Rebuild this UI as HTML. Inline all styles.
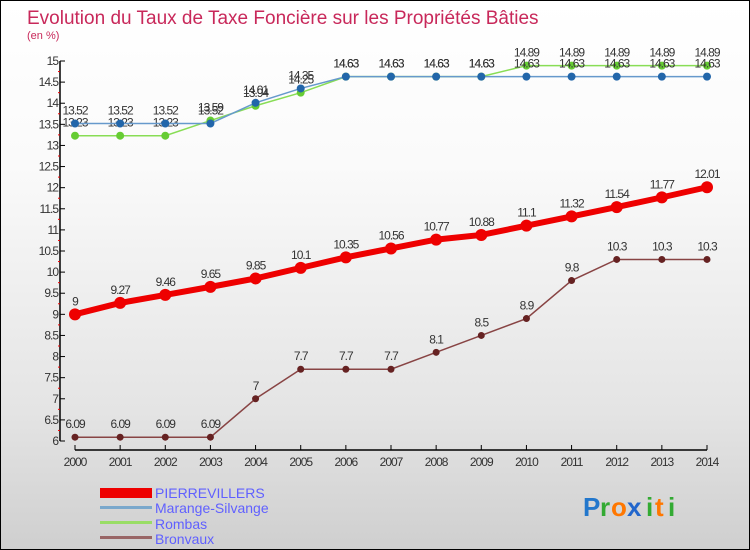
<!DOCTYPE html>
<html><head><meta charset="utf-8"><style>
html,body{margin:0;padding:0}
body{width:750px;height:550px;overflow:hidden;font-family:"Liberation Sans",sans-serif}
#wrap{position:absolute;left:0;top:0;width:748px;height:548px;border:1px solid #000;background:linear-gradient(#fff,#fafafa 30%,#e4e4e4 75%,#cfcfcf)}
</style></head><body>
<div id="wrap">
<svg id="svg" width="750" height="550" style="position:absolute;left:-1px;top:-1px">
<text x="27" y="24" font-size="19" fill="#c8285a">Evolution du Taux de Taxe Foncière sur les Propriétés Bâties</text>
<text x="27" y="39" font-size="11" fill="#c8285a">(en %)</text>
<g id="axes"></g><g id="series"></g>
<g>
<rect x="100" y="488" width="52" height="10" fill="#ee0000"/>
<text x="155" y="498" font-size="14" fill="#6060ff">PIERREVILLERS</text>
<rect x="100" y="506" width="52" height="3" fill="#7aa8cc"/>
<text x="155" y="513" font-size="14" fill="#6060ff">Marange-Silvange</text>
<rect x="100" y="521" width="52" height="3" fill="#99dd66"/>
<text x="155" y="529" font-size="14" fill="#6060ff">Rombas</text>
<rect x="100" y="536" width="52" height="3" fill="#996666"/>
<text x="155" y="544" font-size="14" fill="#6060ff">Bronvaux</text>
</g>
<g font-size="26" font-weight="bold">
<text x="583" y="516" fill="#2277cc">P</text><text x="600" y="516" fill="#33aa33">r</text><text x="611" y="516" fill="#ff7700">o</text><text x="627" y="516" fill="#2266cc">x</text><text x="646" y="516" fill="#33aa33">i</text><text x="655" y="516" fill="#ff7700">t</text><text x="668" y="516" fill="#33aa33">i</text>
</g>
</svg></div>
<script>
const years=[2000,2001,2002,2003,2004,2005,2006,2007,2008,2009,2010,2011,2012,2013,2014];
const pierrevillers=[9,9.27,9.46,9.65,9.85,10.1,10.35,10.56,10.77,10.88,11.1,11.32,11.54,11.77,12.01];
const marange=[13.52,13.52,13.52,13.52,14.01,14.35,14.63,14.63,14.63,14.63,14.63,14.63,14.63,14.63,14.63];
const rombas=[13.23,13.23,13.23,13.59,13.94,14.25,14.63,14.63,14.63,14.63,14.89,14.89,14.89,14.89,14.89];
const bronvaux=[6.09,6.09,6.09,6.09,7,7.7,7.7,7.7,8.1,8.5,8.9,9.8,10.3,10.3,10.3];
const yTicks=[6,6.5,7,7.5,8,8.5,9,9.5,10,10.5,11,11.5,12,12.5,13,13.5,14,14.5,15];
const NS="http://www.w3.org/2000/svg";
const X=i=>75+i*(632/14), Y=v=>441-(v-6)*(380/9);
function mk(t,a,p){const e=document.createElementNS(NS,t);for(const k in a)e.setAttribute(k,a[k]);p.appendChild(e);return e;}
const ax=document.getElementById('axes'), sg=document.getElementById('series');
let yl=mk('line',{x1:60,y1:Y(15),x2:60,y2:Y(6),stroke:'#000','stroke-width':1.5},ax);


yTicks.forEach(v=>{
  mk('line',{x1:60,x2:65,y1:Y(v),y2:Y(v),stroke:'#000'},ax);
  if(v<15) mk('line',{x1:58,x2:60,y1:Y(v+0.25),y2:Y(v+0.25),stroke:'#e00'},ax);
  const t=mk('text',{x:58,y:Y(v)+4,'font-size':12,'text-anchor':'end',fill:'#333','letter-spacing':'-1'},ax);t.textContent=v;
  
  
});
let xl=mk('line',{x1:75,y1:450,x2:707,y2:450,stroke:'#000','stroke-width':1.5},ax);


years.forEach((y,i)=>{
  mk('line',{x1:X(i),x2:X(i),y1:445,y2:450,stroke:'#000'},ax);
  const t=mk('text',{x:X(i),y:466,'font-size':12,'text-anchor':'middle',fill:'#333','letter-spacing':'-1'},ax);t.textContent=y;
  
  
});
function series(data,name,color,w,r,dot){
  const g=mk('g',{},sg);
  
  
  mk('polyline',{points:data.map((v,i)=>X(i)+','+Y(v)).join(' '),fill:'none',stroke:color,'stroke-width':w},g);
  data.forEach((v,i)=>{
    const c=mk('circle',{cx:X(i),cy:Y(v),r:r,fill:dot},g);
    
    
    const t=mk('text',{x:X(i),y:Y(v)-9,'font-size':12,'text-anchor':'middle',fill:'#333','letter-spacing':'-1'},g);t.textContent=v;
    
    
  });
}
series(bronvaux,'bronvaux','#884444',1.5,3.5,'#662222');
series(rombas,'rombas','#88dd55',1.5,4,'#66cc33');
series(marange,'marange','#6699cc',1.5,4,'#2266aa');
series(pierrevillers,'pierrevillers','#ee0000',6,6,'#ee0000');
</script>
</body></html>
